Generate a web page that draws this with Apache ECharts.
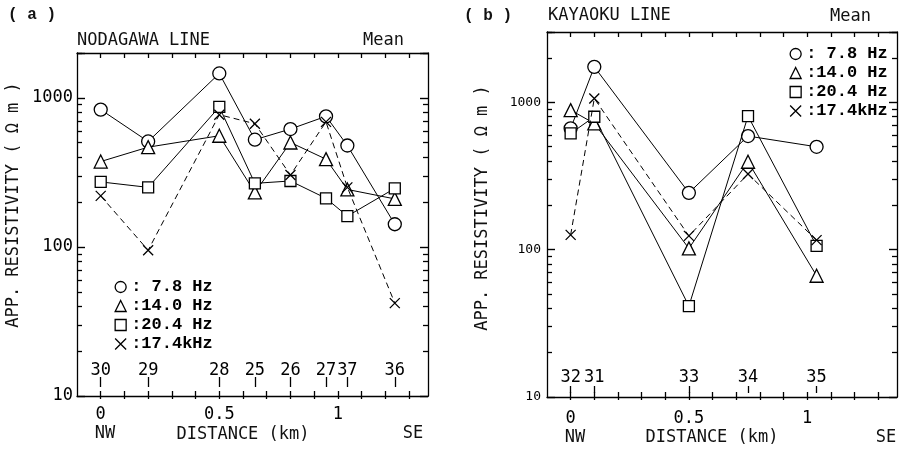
<!DOCTYPE html>
<html>
<head>
<meta charset="utf-8">
<script src="https://cdn.jsdelivr.net/npm/echarts@6/dist/echarts.min.js"></script>
<style>
  html, body { margin: 0; padding: 0; background: #fff; }
  #chart { width: 900px; height: 452px; }
</style>
</head>
<body>
<div id="chart"></div>
<script>
// ---- Nodagawa line: stations, distance along profile (km), apparent resistivity (ohm-m)
const stationsA = ['30', '29', '28', '25', '26', '27', '37', '36'];
const distA = [0, 0.2, 0.5, 0.65, 0.8, 0.95, 1.04, 1.24];
const rhoA_7_8 = [834, 510, 1458, 524, 618, 752, 479, 142];
const rhoA_14_0 = [374, 467, 557, 232, 502, 388, 243, 210];
const rhoA_20_4 = [273, 251, 869, 267, 277, 212, 161, 247];
const rhoA_17_4k = [220, 95, 771, 671, 304, 690, 251, 42];

// ---- Kayaoku line
const stationsB = ['32', '31', '33', '34', '35'];
const distB = [0, 0.1, 0.5, 0.75, 1.04];
const rhoB_7_8 = [665, 1741, 243, 590, 499];
const rhoB_14_0 = [885, 719, 102, 395, 66.5];
const rhoB_20_4 = [615, 798, 41.4, 806, 106];
const rhoB_17_4k = [126, 1062, 124, 326, 116];

// ---- frequencies (legend entries) and axis ticks
const freqNames = [' 7.8 Hz', '14.0 Hz', '20.4 Hz', '17.4kHz'];
const distTicks = [0, 0.1, 0.2, 0.3, 0.4, 0.5, 0.6, 0.7, 0.8, 0.9, 1.0, 1.1, 1.2, 1.3];
const distLabels = [0, 0.5, 1];
const yMaxA = 2000;
const yMaxB = 3000;

const ink = '#000';
const plotFont = 'DejaVu Sans Mono';
const typeFont = 'Liberation Mono';
const crossPath = 'path://M0,0L10,10M10,0L0,10';
const markerTypes = ['circle', 'triangle', 'rect', crossPath];
const markerSizes = [13, 13, 11, 10];

// minor ticks of a log axis: 2..9 x 10^n up to the axis maximum
function logMinor(max) {
  const out = [];
  for (let p = 10; p < max; p *= 10) {
    for (let k = 2; k <= 9; k++) {
      if (k * p <= max) out.push(Math.log10(k * p));
    }
  }
  return out;
}

function noLine() { return { show: false, onZero: false }; }
function frameLine() { return { show: true, onZero: false, lineStyle: { color: ink, width: 1.3 } }; }
function tickStyle(len, w, values) {
  const t = { show: true, length: len, lineStyle: { color: ink, width: w } };
  if (values) t.customValues = values.slice();
  return t;
}

// Frame ticks that point into the plot come from twin axes placed on the
// opposite side and shifted across the grid with a negative offset.
function xAxesFor(g, stations, dist, o) {
  const base = function () { return { gridIndex: g, type: 'value', min: -0.1, max: 1.38, splitLine: { show: false } }; };
  return [
    // bottom frame with distance labels
    Object.assign(base(), {
      position: 'bottom', axisLine: frameLine(),
      axisTick: tickStyle(3, 1.3, distTicks),
      axisLabel: { customValues: distLabels.slice(), margin: o.labelMargin, color: ink, fontFamily: plotFont, fontSize: 17 }
    }),
    // inward ticks on the bottom frame
    Object.assign(base(), {
      position: 'top', offset: -o.h, axisLine: noLine(),
      axisTick: tickStyle(5, 1.3, distTicks), axisLabel: { show: false }
    }),
    // top frame
    Object.assign(base(), {
      position: 'top', axisLine: frameLine(),
      axisTick: { show: false }, axisLabel: { show: false }
    }),
    // inward ticks on the top frame
    Object.assign(base(), {
      position: 'bottom', offset: -o.h, axisLine: noLine(),
      axisTick: tickStyle(5, 1.3, distTicks), axisLabel: { show: false }
    }),
    // station marks along the bottom of the frame
    Object.assign(base(), {
      position: 'top', offset: o.stationOffset, axisLine: noLine(),
      axisTick: tickStyle(o.stationTick, 1.3, dist),
      axisLabel: {
        customValues: dist.slice(), margin: o.stationMargin, color: ink, fontFamily: plotFont, fontSize: 17,
        formatter: function (v) {
          let best = 0;
          dist.forEach(function (d, i) { if (Math.abs(d - v) < Math.abs(dist[best] - v)) best = i; });
          return stations[best];
        }
      }
    })
  ];
}

function yAxesFor(g, yMax, o) {
  const minor = logMinor(yMax);
  const logBase = function () { return { gridIndex: g, type: 'log', logBase: 10, min: 10, max: yMax, splitLine: { show: false } }; };
  const linBase = function () {
    return { gridIndex: g, type: 'value', min: 1, max: Math.log10(yMax), splitLine: { show: false },
      axisLine: noLine(), axisLabel: { show: false } };
  };
  return [
    // left frame with decade labels
    Object.assign(logBase(), {
      position: 'left', axisLine: frameLine(), axisTick: { show: false },
      axisLabel: {
        showMaxLabel: false, margin: o.labelMargin, color: ink, fontFamily: plotFont, fontSize: o.labelSize,
        formatter: function (v) { return String(Math.round(v)); }
      }
    }),
    // right frame
    Object.assign(logBase(), {
      position: 'right', axisLine: frameLine(), axisTick: { show: false }, axisLabel: { show: false }
    }),
    // inward decade ticks on the left and right frames
    Object.assign(logBase(), {
      position: 'right', offset: -o.w, axisLine: noLine(), axisTick: tickStyle(8, 1.4), axisLabel: { show: false }
    }),
    Object.assign(logBase(), {
      position: 'left', offset: -o.w, axisLine: noLine(), axisTick: tickStyle(8, 1.4), axisLabel: { show: false }
    }),
    // inward minor ticks on the left and right frames
    Object.assign(linBase(), { position: 'right', offset: -o.w, axisTick: tickStyle(5, 1.3, minor) }),
    Object.assign(linBase(), { position: 'left', offset: -o.w, axisTick: tickStyle(5, 1.3, minor) })
  ];
}

function seriesFor(xIdx, yIdx, dist, sets) {
  return sets.map(function (vals, i) {
    return {
      name: freqNames[i],
      type: 'line',
      xAxisIndex: xIdx,
      yAxisIndex: yIdx,
      data: dist.map(function (d, j) { return [d, vals[j]]; }),
      symbol: markerTypes[i],
      symbolSize: markerSizes[i],
      showAllSymbol: true,
      itemStyle: { color: '#fff', borderColor: ink, borderWidth: 1.3 },
      lineStyle: { color: ink, width: 1, type: i === 3 ? [6, 4] : 'solid' },
      emphasis: { disabled: true },
      silent: true,
      z: 3 + i
    };
  });
}

function legendFor(left, top) {
  return {
    left: left, top: top, orient: 'vertical',
    itemWidth: 11, itemHeight: 11, itemGap: 2,
    selectedMode: false,
    data: freqNames.map(function (n, i) { return { name: n, icon: markerTypes[i] }; }),
    formatter: function (n) { return ':' + n; },
    itemStyle: { borderWidth: 1.3 },
    textStyle: { fontFamily: typeFont, fontSize: 17, fontWeight: 'bold', color: ink, lineHeight: 17 }
  };
}

function txt(x, y, text, opts) {
  opts = opts || {};
  return {
    type: 'text', x: x, y: y, rotation: opts.rotation || 0, silent: true,
    style: {
      text: text, fill: '#111',
      font: (opts.weight || 'normal') + ' ' + (opts.size || 17) + 'px ' + (opts.family || plotFont),
      textAlign: opts.align || 'center', textVerticalAlign: 'middle'
    }
  };
}

const chart = echarts.init(document.getElementById('chart'));

const gridA = { left: 77, top: 53, width: 351, height: 343 };
const gridB = { left: 547, top: 32, width: 350, height: 365 };

const xA = xAxesFor(0, stationsA, distA, { h: gridA.height, labelMargin: 10, stationOffset: -(387 - gridA.top), stationTick: 10, stationMargin: 8 });
const xB = xAxesFor(1, stationsB, distB, { h: gridB.height, labelMargin: 13, stationOffset: -(393 - gridB.top), stationTick: 7, stationMargin: 7 });
const yA = yAxesFor(0, yMaxA, { w: gridA.width, labelMargin: 4, labelSize: 17 });
const yB = yAxesFor(1, yMaxB, { w: gridB.width, labelMargin: 6, labelSize: 13 });

chart.setOption({
  animation: false,
  grid: [gridA, gridB],
  xAxis: xA.concat(xB),
  yAxis: yA.concat(yB),
  legend: [legendFor(109.5, 273.5), legendFor(784.5, 40.5)],
  series: seriesFor(0, 0, distA, [rhoA_7_8, rhoA_14_0, rhoA_20_4, rhoA_17_4k])
    .concat(seriesFor(xA.length, yA.length, distB, [rhoB_7_8, rhoB_14_0, rhoB_20_4, rhoB_17_4k])),
  graphic: [
    txt(8, 15, '( a )', { align: 'left', family: typeFont, weight: 'bold', size: 16 }),
    txt(77, 41, 'NODAGAWA LINE', { align: 'left' }),
    txt(404, 41, 'Mean', { align: 'right' }),
    txt(14, 205, 'APP. RESISTIVITY ( Ω m )', { rotation: Math.PI / 2 }),
    txt(105, 434, 'NW'),
    txt(243, 435, 'DISTANCE (km)'),
    txt(413, 434, 'SE'),
    txt(464, 16, '( b )', { align: 'left', family: typeFont, weight: 'bold', size: 16 }),
    txt(548, 16, 'KAYAOKU LINE', { align: 'left' }),
    txt(871, 17, 'Mean', { align: 'right' }),
    txt(483, 208, 'APP. RESISTIVITY ( Ω m )', { rotation: Math.PI / 2 }),
    txt(575, 438, 'NW'),
    txt(712, 438, 'DISTANCE (km)'),
    txt(886, 438, 'SE')
  ]
});
</script>
</body>
</html>
